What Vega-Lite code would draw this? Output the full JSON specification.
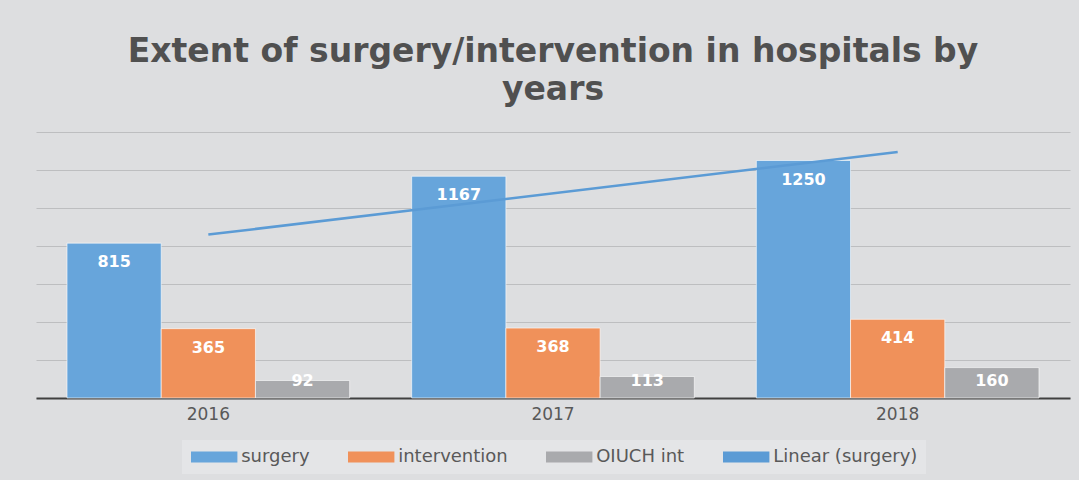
{
  "$schema": "https://vega.github.io/schema/vega-lite/v6.json",
  "width": 1034,
  "height": 266,
  "autosize": {"type": "none"},
  "padding": {"left": 36, "top": 132, "right": 9, "bottom": 82},
  "background": "#dddee0",
  "title": {
    "text": ["Extent of surgery/intervention in hospitals by", "years"],
    "font": "DejaVu Sans",
    "fontSize": 33,
    "fontWeight": "bold",
    "color": "#505050",
    "lineHeight": 38,
    "anchor": "middle",
    "offset": 25
  },
  "datasets": {
    "bars": [
      {"year": "2016", "series": "surgery", "value": 815},
      {"year": "2016", "series": "intervention", "value": 365},
      {"year": "2016", "series": "OIUCH int", "value": 92},
      {"year": "2017", "series": "surgery", "value": 1167},
      {"year": "2017", "series": "intervention", "value": 368},
      {"year": "2017", "series": "OIUCH int", "value": 113},
      {"year": "2018", "series": "surgery", "value": 1250},
      {"year": "2018", "series": "intervention", "value": 414},
      {"year": "2018", "series": "OIUCH int", "value": 160}
    ],
    "trend": [
      {"year": "2016", "trend": 860},
      {"year": "2018", "trend": 1295}
    ]
  },
  "config": {
    "view": {"stroke": null},
    "axisX": {
      "title": null,
      "labelFont": "DejaVu Sans",
      "labelFontSize": 17,
      "labelColor": "#595959",
      "labelAngle": 0,
      "labelPadding": 8,
      "ticks": false,
      "domainColor": "#404040",
      "domainWidth": 2,
      "grid": false
    },
    "axisY": {
      "title": null,
      "labels": false,
      "ticks": false,
      "domain": false,
      "grid": true,
      "gridColor": "#bdbec0",
      "gridOpacity": 1,
      "gridWidth": 1
    }
  },
  "layer": [
    {
      "data": {"name": "bars"},
      "mark": {"type": "bar", "stroke": "white", "strokeWidth": 1, "strokeOpacity": 0.6},
      "encoding": {
        "x": {"field": "year", "type": "nominal", "scale": {"type": "band", "paddingInner": 0.18, "paddingOuter": 0.09}},
        "xOffset": {"field": "series", "type": "nominal", "sort": ["surgery", "intervention", "OIUCH int"]},
        "y": {"field": "value", "type": "quantitative", "scale": {"domain": [0, 1400], "nice": false}, "axis": {"values": [0, 200, 400, 600, 800, 1000, 1200, 1400], "tickCount": 10}},
        "color": {
          "field": "series",
          "type": "nominal",
          "scale": {
            "domain": ["surgery", "intervention", "OIUCH int", "Linear (surgery)"],
            "range": ["#67a5db", "#f0915a", "#a9aaad", "#5b9bd5"]
          },
          "legend": {
            "orient": "none",
            "legendX": 146,
            "legendY": 308,
            "direction": "horizontal",
            "title": null,
            "fillColor": "#e4e5e7",
            "padding": 8,
            "columnPadding": 37,
            "labelOffset": 18,
            "labelFont": "DejaVu Sans",
            "labelFontSize": 18,
            "labelColor": "#595959",
            "labelLimit": 300,
            "symbolSize": 256,
            "symbolOffset": 15.2,
            "symbolType": "M-2.9,-0.69H2.9V0.69H-2.9Z",
            "symbolStrokeWidth": 0,
            "encode": {
              "symbols": {
                "update": {
                  "shape": {"signal": "datum.label === 'Linear (surgery)' ? 'M-2.9,0H2.9' : 'M-2.9,-0.69H2.9V0.69H-2.9Z'"},
                  "fill": {"signal": "datum.label === 'Linear (surgery)' ? 'transparent' : scale('color', datum.value)"},
                  "stroke": {"signal": "scale('color', datum.value)"},
                  "strokeWidth": {"signal": "datum.label === 'Linear (surgery)' ? 2.5 : 0"},
                  "opacity": {"value": 1}
                }
              }
            }
          }
        }
      }
    },
    {
      "data": {"name": "bars"},
      "transform": [{"filter": "datum.series !== 'OIUCH int'"}],
      "mark": {"type": "text", "baseline": "middle", "dy": 19, "font": "DejaVu Sans", "fontSize": 16, "fontWeight": "bold", "color": "white"},
      "encoding": {
        "x": {"field": "year", "type": "nominal"},
        "xOffset": {"field": "series", "type": "nominal", "sort": ["surgery", "intervention", "OIUCH int"]},
        "y": {"field": "value", "type": "quantitative"},
        "text": {"field": "value", "type": "quantitative"}
      }
    },
    {
      "data": {"name": "bars"},
      "transform": [{"filter": "datum.series === 'OIUCH int'"}],
      "mark": {"type": "text", "baseline": "middle", "font": "DejaVu Sans", "fontSize": 16, "fontWeight": "bold", "color": "white"},
      "encoding": {
        "x": {"field": "year", "type": "nominal"},
        "xOffset": {"field": "series", "type": "nominal", "sort": ["surgery", "intervention", "OIUCH int"]},
        "y": {"datum": 90, "type": "quantitative"},
        "text": {"field": "value", "type": "quantitative"}
      }
    },
    {
      "data": {"name": "trend"},
      "mark": {"type": "line", "color": "#5b9bd5", "strokeWidth": 2.5},
      "encoding": {
        "x": {"field": "year", "type": "nominal"},
        "y": {"field": "trend", "type": "quantitative"}
      }
    }
  ]
}
